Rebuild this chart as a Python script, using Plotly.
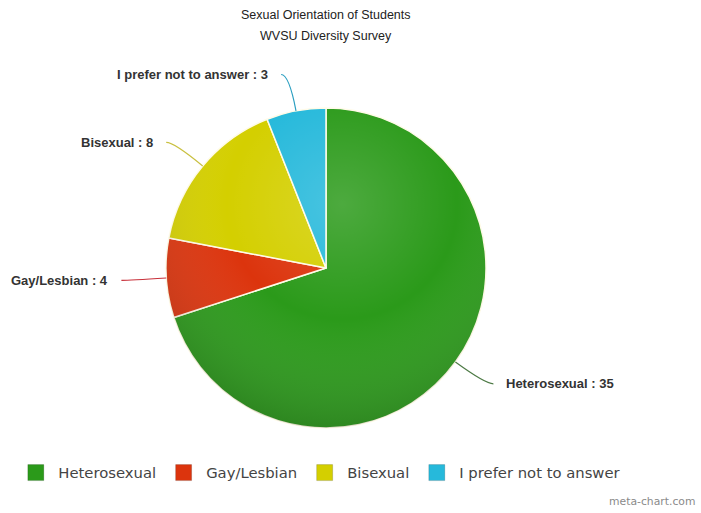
import base64
import math
import plotly.graph_objects as go

# Survey responses
categories = ["Heterosexual", "Gay/Lesbian", "Bisexual", "I prefer not to answer"]
counts = [35, 4, 8, 3]
colors = ["#2b9a1a", "#dc340d", "#d4cf00", "#26b9db"]
line_colors = ["#4d7a45", "#c8303a", "#c9c040", "#2a9ec0"]

title_lines = ["Sexual Orientation of Students", "WVSU Diversity Survey"]
credit = "meta-chart.com"

W, H = 701, 513
CX, CY, R = 326, 268, 160          # pie centre and radius (px)
LABEL_R = R + 37                    # radius where connectors bend

fig = go.Figure()

fig.add_trace(go.Pie(
    labels=categories,
    values=counts,
    sort=False,
    direction="clockwise",
    rotation=0,
    marker=dict(colors=colors, line=dict(color="#fffbe8", width=1.5)),
    textinfo="none",
    showlegend=False,
    hovertemplate="%{label}: %{value}<extra></extra>",
    domain=dict(x=[(CX - R) / W, (CX + R) / W], y=[1 - (CY + R) / H, 1 - (CY - R) / H]),
))

# legend keys: large square swatches, one per category
for name, c in zip(categories, colors):
    fig.add_trace(go.Scatter(
        x=[None], y=[None], mode="markers", name=name,
        marker=dict(symbol="square", size=16, color=c,
                    line=dict(color="rgba(0,0,0,0.15)", width=1)),
        hoverinfo="skip",
    ))

# soft radial shading over the pie
svg = (
    '<svg xmlns="http://www.w3.org/2000/svg" width="320" height="320" viewBox="0 0 320 320">'
    '<defs><radialGradient id="g" cx="0.55" cy="0.3" r="0.8">'
    '<stop offset="0" stop-color="#ffffff" stop-opacity="0.16"/>'
    '<stop offset="0.45" stop-color="#ffffff" stop-opacity="0"/>'
    '<stop offset="1" stop-color="#000000" stop-opacity="0.25"/>'
    '</radialGradient></defs>'
    '<circle cx="160" cy="160" r="160" fill="url(#g)"/></svg>'
)
uri = "data:image/svg+xml;base64," + base64.b64encode(svg.encode()).decode()
fig.add_layout_image(dict(
    source=uri, xref="paper", yref="paper",
    x=(CX - R) / W, y=1 - (CY - R) / H,
    sizex=2 * R / W, sizey=2 * R / H,
    xanchor="left", yanchor="top", sizing="stretch", layer="above",
))

# outside labels with curved connectors, placed from each slice's mid-angle
total = sum(counts)
start = 0.0
shapes = []
annotations = []
for name, val, lc in zip(categories, counts, line_colors):
    span = 360.0 * val / total
    mid = math.radians(start + span / 2)
    start += span
    sx, sy = CX + R * math.sin(mid), CY - R * math.cos(mid)
    ax, ay = CX + LABEL_R * math.sin(mid), CY - LABEL_R * math.cos(mid)
    right = math.sin(mid) >= 0
    ex = ax + (8 if right else -8)
    shapes.append(dict(
        type="path", xref="x", yref="y",
        path=f"M {sx:.1f},{sy:.1f} Q {ax:.1f},{ay:.1f} {ex:.1f},{ay:.1f}",
        line=dict(color=lc, width=1.2),
    ))
    annotations.append(dict(
        x=ex + (11 if right else -11), y=ay, xref="x", yref="y",
        text=f"<b>{name} : {val}</b>", showarrow=False,
        xanchor="left" if right else "right", yanchor="middle",
        font=dict(family="Liberation Sans, Arial", size=13, color="#333333"),
    ))

for i, t in enumerate(title_lines):
    annotations.append(dict(
        x=CX, y=15 + 21 * i, xref="x", yref="y", text=t, showarrow=False,
        xanchor="center", yanchor="middle",
        font=dict(family="Liberation Sans, Arial", size=12.5, color="#222222"),
    ))

annotations.append(dict(
    x=697, y=501, xref="x", yref="y", text=credit, showarrow=False,
    xanchor="right", yanchor="middle",
    font=dict(family="DejaVu Sans", size=10.8, color="#8a8a8a"),
))

fig.update_layout(
    width=W, height=H,
    margin=dict(l=0, r=0, t=0, b=0),
    paper_bgcolor="white", plot_bgcolor="white",
    xaxis=dict(range=[0, W], visible=False, fixedrange=True),
    yaxis=dict(range=[H, 0], visible=False, fixedrange=True),
    shapes=shapes,
    annotations=annotations,
    showlegend=True,
    legend=dict(
        orientation="h", x=0.019, xanchor="left", y=1 - 473 / H, yanchor="middle",
        font=dict(family="DejaVu Sans", size=14.8, color="#444444"),
        itemwidth=35,
    ),
)

fig.write_html("out.html")
